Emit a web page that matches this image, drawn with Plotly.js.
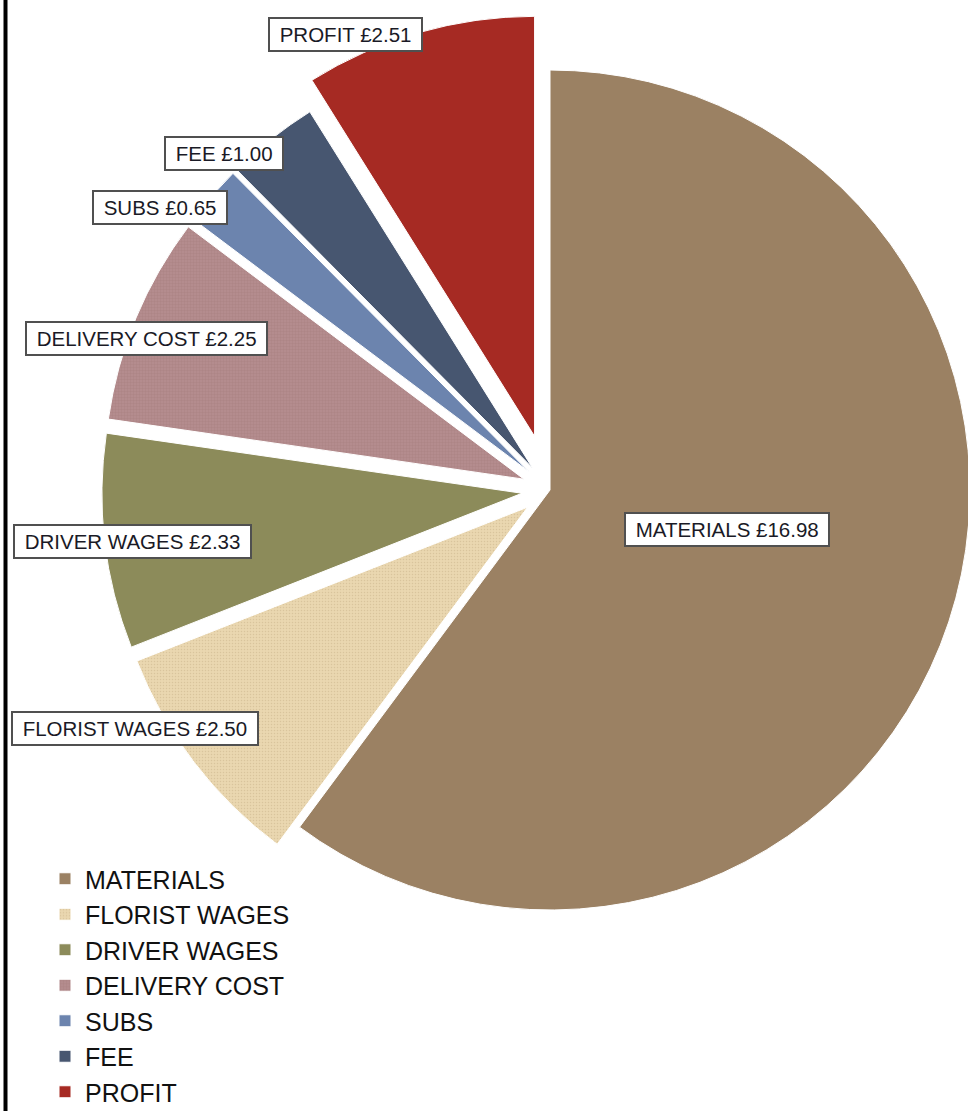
<!DOCTYPE html>
<html>
<head>
<meta charset="utf-8">
<script src="https://cdn.plot.ly/plotly-3.0.1.min.js"></script>
<style>
  html, body { margin: 0; padding: 0; background: #ffffff; overflow: hidden; }
  #chart { width: 1100px; height: 1111px; }
</style>
</head>
<body>
<div id="chart"></div>
<script>
// ---- data ----
var categories = ["MATERIALS", "FLORIST WAGES", "DRIVER WAGES", "DELIVERY COST", "SUBS", "FEE", "PROFIT"];
var costs = [16.98, 2.50, 2.33, 2.25, 0.65, 1.00, 2.51];
var currency = "£";

// ---- style ----
var colors = ["#9b8163", "#ead7b0", "#8c8b5a", "#b48c8e", "#6c84ae", "#475670", "#a62a23"];
var pulls = [0, 0.067, 0.067, 0.067, 0.067, 0.067, 0.133];
var patternShapes = ["", ".", "", "+", "", "", ""];
var patternFg = ["#9b8163", "#d9c49c", "#8c8b5a", "#a67e81", "#6c84ae", "#475670", "#a62a23"];
// label placement: radial factor (of pie radius) and pixel nudges
var labelRadius = [0.45, 1, 1, 1, 1, 1, 1];
var labelShiftX = [-2, -82, 0, -16, -73, -65, -89];
var labelShiftY = [-20, -17, 3, 10, -7, -7, -52];

// ---- geometry ----
var W = 1100, H = 1111;
var cx = 550, cy = 490, r = 420;
var maxPull = Math.max.apply(null, pulls);
var boxH = 2 * r * (1 + maxPull);
var domY = [1 - (cy + boxH / 2) / H, 1 - (cy - boxH / 2) / H];

var total = costs.reduce(function (a, b) { return a + b; }, 0);

var annotations = [];
var cum = 0;
for (var i = 0; i < costs.length; i++) {
  var frac = costs[i] / total;
  var mid = (cum + frac / 2) * 2 * Math.PI; // clockwise from 12 o'clock
  cum += frac;
  var rho = r * labelRadius[i];
  var px = cx + rho * Math.sin(mid) + labelShiftX[i];
  var py = cy - rho * Math.cos(mid) + labelShiftY[i];
  annotations.push({
    xref: "paper", yref: "paper",
    x: px / W, y: 1 - py / H,
    xanchor: "center", yanchor: "middle",
    text: "\u00a0" + categories[i] + " " + currency + costs[i].toFixed(2) + "\u00a0",
    showarrow: false,
    font: { family: "Liberation Sans, Arial, sans-serif", size: 20.5, color: "#1a1a26" },
    bgcolor: "#ffffff",
    bordercolor: "#505050",
    borderwidth: 2,
    borderpad: 4
  });
}

var trace = {
  type: "pie",
  labels: categories,
  values: costs,
  sort: false,
  direction: "clockwise",
  rotation: 0,
  pull: pulls,
  textinfo: "none",
  hoverinfo: "skip",
  domain: { x: [0, 1], y: domY },
  marker: {
    colors: colors,
    line: { color: "#ffffff", width: 1 },
    pattern: { shape: patternShapes, fgcolor: patternFg, bgcolor: colors, size: 3, solidity: 0.2 }
  }
};

var layout = {
  width: W,
  height: H,
  margin: { l: 0, r: 0, t: 0, b: 0, autoexpand: false },
  paper_bgcolor: "#ffffff",
  showlegend: true,
  legend: {
    x: 45 / W, y: 1 - 856 / H,
    xanchor: "left", yanchor: "top",
    bgcolor: "rgba(0,0,0,0)",
    font: { family: "Liberation Sans, Arial, sans-serif", size: 25, color: "#111111" },
    traceorder: "normal"
  },
  annotations: annotations,
  shapes: [{
    type: "line", xref: "paper", yref: "paper",
    x0: 5.5 / W, x1: 5.5 / W, y0: 0, y1: 1,
    line: { color: "#000000", width: 4 }
  }]
};

Plotly.newPlot("chart", [trace], layout, { staticPlot: true, displayModeBar: false });
</script>
</body>
</html>
